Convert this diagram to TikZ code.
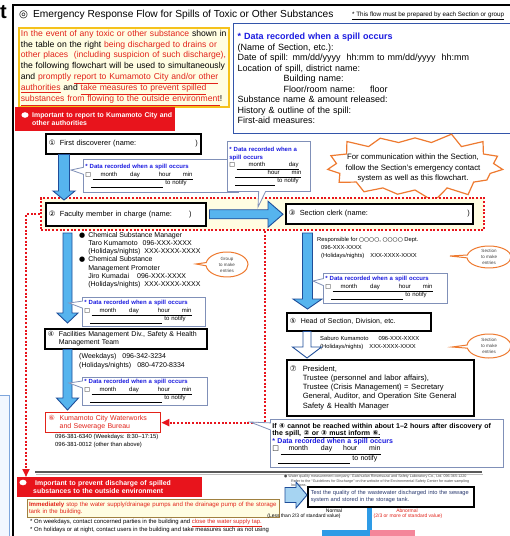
\documentclass[tikz,border=0pt]{standalone}
\usepackage{fontspec}
\setmainfont{Liberation Sans}
\newfontfamily\dejavu{DejaVu Sans}
\usetikzlibrary{positioning,calc,arrows.meta,shapes.callouts,shapes.symbols}

\definecolor{warnred}{HTML}{E8141C}
\definecolor{textred}{HTML}{E2231A}
\definecolor{recblue}{HTML}{1A1AE0}
\definecolor{recedge}{HTML}{3355AA}
\definecolor{noteedge}{HTML}{8090B8}
\definecolor{arrowblue}{HTML}{56B4EE}
\definecolor{lightarrow}{HTML}{A6D4F2}
\definecolor{arrowedge}{HTML}{1F4E99}
\definecolor{paleyellow}{HTML}{FFFDE2}
\definecolor{goldedge}{HTML}{F5C21B}
\definecolor{goldbrown}{HTML}{A08040}
\definecolor{burstorange}{HTML}{EE7A30}
\definecolor{leftblue}{HTML}{7FA6DC}
\definecolor{leftfill}{HTML}{F2F7FF}
\definecolor{barblue}{HTML}{2E9BE6}
\definecolor{barpink}{HTML}{F4869A}
\definecolor{testblue}{HTML}{2A3A70}

\newcommand{\fsz}[2]{\fontsize{#1}{#2}\selectfont}
\newcommand{\ru}[1]{\textcolor{textred}{\underline{#1}}}
\newcommand{\cnum}[1]{\makebox[11pt][l]{\dejavu #1}}
\newcommand{\pushright}{\hskip 0pt plus 1fill\relax}
\newcommand{\rechead}{\textcolor{recblue}{\bfseries * Data recorded when a spill occurs}}
\newcommand{\recday}[1]{{\dejavu □}\hspace{1.5pt}\underline{\hbox to #1{\vphantom{y}\hspace{8pt}month\hspace{13pt}day\hfil hour\hspace{12pt}min}}}
\newcommand{\recnote}[1]{\hspace*{6pt}\underline{\hbox to #1{\vphantom{y}\hfil}}\hspace{2pt}to notify}

% block arrows: [fill]{start}{tip}{half shaft}{half head}{head length}
\newcommand{\blockdown}[6][arrowblue]{%
  \path[draw=arrowedge, fill=#1, line width=0.9pt] let \p1=#2, \p2=#3 in
    (\x1-#4,\y1) -- (\x1+#4,\y1) -- (\x1+#4,\y2+#6) -- (\x1+#5,\y2+#6)
    -- (\x1,\y2) -- (\x1-#5,\y2+#6) -- (\x1-#4,\y2+#6) -- cycle;}
\newcommand{\blockright}[6][arrowblue]{%
  \path[draw=arrowedge, fill=#1, line width=0.9pt] let \p1=#2, \p2=#3 in
    (\x1,\y1+#4) -- (\x2-#6,\y1+#4) -- (\x2-#6,\y1+#5) -- (\x2,\y1)
    -- (\x2-#6,\y1-#5) -- (\x2-#6,\y1-#4) -- (\x1,\y1-#4) -- cycle;}

\begin{document}
\begin{tikzpicture}[x=1pt, y=-1pt,
  box/.style={draw, line width=1.5pt, fill=white, anchor=north west, inner sep=3pt, align=left},
  note/.style={rectangle callout, draw=noteedge, line width=0.8pt, fill=white, anchor=north west,
    inner sep=2pt, align=left, callout pointer width=7pt},
  oval/.style={ellipse callout, draw=burstorange, line width=1pt, fill=white, align=center,
    inner sep=0pt, text=black!75, font=\fsz{4.5}{6}, callout pointer width=6pt},
  banner/.style={fill=warnred, text=white, anchor=north west, align=left, inner sep=0pt,
    font=\bfseries\fsz{6.9}{8.2}},
  reddot/.style={draw=warnred, line width=2pt, dash pattern=on 2pt off 1.7pt},
  plain/.style={anchor=north west, inner sep=0pt, align=left}]
    \useasboundingbox[fill=white] (0,0) rectangle (510,536);

    % page frame and header
    \draw[draw=leftblue, fill=leftfill, line width=1pt] (-2,395) rectangle (9,540);
    \draw[line width=1.6pt] (13,540) -- (13,5) -- (514,5);
    \node[anchor=base west, inner sep=0pt, font=\bfseries\fsz{20}{20}] (tmark) at (0,18) {t};
    \node[anchor=west, inner sep=0pt, font=\fsz{10.2}{12}] (title) at (19,14.5)
        {{\dejavu ◎}\hspace{5pt}Emergency Response Flow for Spills of Toxic or Other Substances};
    \node[anchor=west, inner sep=0pt, font=\fsz{6.3}{7}] (flownote) at (352,15.5)
        {\underline{* This flow must be prepared by each Section or group}};

    \node[anchor=north west, draw=goldedge, line width=1.8pt, fill=paleyellow, text width=206pt,
        inner sep=2pt, minimum height=79pt, align=left, font=\fsz{8.6}{10.9}] (intro) at (18,27)
        {\textcolor{textred}{In the event of any toxic or other substance} shown in\\
         the table on the right \textcolor{textred}{being discharged to drains or}\\
         \textcolor{textred}{other places\ \ (including suspicion of such discharge),}\\
         the following flowchart will be used to simultaneously\\
         and \textcolor{textred}{promptly} \ru{report to Kumamoto City and/or other}\\
         \ru{authorities} and \ru{take measures to prevent spilled}\\
         \ru{substances from flowing to the outside environment}!};

    \node[anchor=north west, draw=recedge, line width=1.3pt, fill=white, text width=272pt,
        minimum height=110pt, inner sep=4pt, align=left, font=\fsz{9}{10.5}] (record) at (233,23)
        {\rechead\\
         (Name of Section, etc.):\\
         Date of spill: mm/dd/yyyy\ \ hh:mm to mm/dd/yyyy\ \ hh:mm\\
         Location of spill, district name:\\
         \hspace*{46pt}Building name:\\
         \hspace*{46pt}Floor/room name:\hspace{15pt}floor\\
         Substance name \& amount released:\\
         History \& outline of the spill:\\
         First-aid measures:};

    % report part
    \node[banner, text width=160pt, minimum height=24pt] (report) at (15,107)
        {\hspace*{17pt}Important to report to Kumamoto City and\\\hspace*{17pt}other authorities};
    \fill[white] ([xshift=10pt,yshift=-8pt]report.north west) ellipse (3.6pt and 2.8pt);

    \node[starburst, draw=burstorange, line width=1.2pt, fill=white, starburst points=15,
        starburst point height=13pt, random starburst=3, minimum width=184pt, minimum height=74pt,
        inner sep=0pt] (burst) at (415,166) {};
    \node[align=center, inner sep=0pt, font=\fsz{7.8}{10.5}] (bursttext) at (413,168)
        {For communication within the Section,\\follow the Section's emergency contact\\system as well as this flowchart.};

    \node[box, minimum width=155pt, minimum height=20pt, text width=149pt, font=\fsz{7.4}{9}] (b1) at (45,133)
        {\cnum{①}First discoverer (name:\pushright)};

    \node[anchor=north west, reddot, fill=paleyellow, minimum width=443pt, minimum height=32pt,
        inner sep=0pt] (grp) at (40,197) {};
    \node[box, minimum width=160pt, minimum height=23pt, text width=154pt, font=\fsz{7.4}{9}] (b2) at (45,202)
        {\cnum{②}Faculty member in charge (name:\hspace{17pt})};
    \node[box, minimum width=187pt, minimum height=20pt, text width=181pt, font=\fsz{7.4}{9}] (b3) at (285,203)
        {\cnum{③}Section clerk (name:\pushright)\hspace*{19pt}};

    \blockdown{([xshift=19pt]b1.south west)}{([xshift=19pt,yshift=2pt]b2.north west)}{5.5pt}{11pt}{9pt}
    \blockright{([xshift=3pt]b2.east)}{([xshift=-2pt]b3.west)}{4.5pt}{13pt}{15pt}

    \node[note, callout absolute pointer={(71,170)}, minimum width=155pt, minimum height=33pt,
        text width=151pt, font=\fsz{6}{8.3}] (c1) at (83,159) {\rechead\\\recday{100pt}\\\recnote{72pt}};
    \node[note, callout absolute pointer={(258,207)}, minimum width=83pt, minimum height=50pt,
        text width=79pt, font=\fsz{6}{7.6}] (c2) at (227,141)
        {\textcolor{recblue}{\bfseries * Data recorded when a}\\\textcolor{recblue}{\bfseries spill occurs}\\
         {\dejavu □}\hspace{1.5pt}\underline{\hbox to 62pt{\vphantom{y}\hspace{12pt}month\hfil day}}\\
         \hspace*{6pt}\underline{\hbox to 66pt{\vphantom{y}\hfil hour\hspace{12pt}min}}\\
         \hspace*{6pt}\underline{\hbox to 40pt{\vphantom{y}\hfil}}\hspace{2pt}to notify};

    % left column
    \node[plain, font=\fsz{7}{8.3}] (mgr) at (79,231)
        {\begin{tabular}{@{}l@{\hspace{3pt}}l@{}}
         {\dejavu ●} & Chemical Substance Manager\\
          & Taro Kumamoto\hspace{5pt}096-XXX-XXXX\\
          & (Holidays/nights)\hspace{4pt}XXX-XXXX-XXXX\\
         {\dejavu ●} & Chemical Substance\\
          & Management Promoter\\
          & Jiro Kumadai\hspace{8pt}096-XXX-XXXX\\
          & (Holidays/nights)\hspace{4pt}XXX-XXXX-XXXX
         \end{tabular}};
    \node[oval, minimum width=42pt, minimum height=25pt, callout absolute pointer={(196,264)}] (grpnote) at (227,264.5)
        {Group\\to make\\entries};

    \node[box, minimum width=162pt, minimum height=20pt, text width=156pt, inner ysep=1.5pt,
        font=\fsz{7}{8}] (b4) at (44,328)
        {\cnum{④}Facilities Management Div., Safety \& Health\\\hspace*{11pt}Management Team};
    \blockdown{([xshift=27.5pt,yshift=-2pt]grp.south west)}{([xshift=23.5pt,yshift=5pt]b4.north west)}{4.5pt}{10.5pt}{10pt}
    \node[note, callout absolute pointer={(69,303)}, minimum width=123pt, minimum height=29pt,
        text width=119pt, font=\fsz{6}{8}] (c3) at (82,297) {\rechead\\\recday{100pt}\\\recnote{72pt}};

    \node[plain, font=\fsz{7}{8.7}] (fac) at (79,353.5)
        {(Weekdays)\hspace{6pt}096-342-3234\\(Holidays/nights)\hspace{6pt}080-4720-8334};
    \node[box, draw=textred, line width=1.3pt, text=textred, minimum width=115pt, minimum height=20pt,
        text width=109pt, inner ysep=1.5pt, font=\fsz{7}{8.5}] (sewer) at (45,412)
        {\cnum{⑥}Kumamoto City Waterworks\\\hspace*{11pt}and Sewerage Bureau};
    \blockdown{([xshift=23.5pt]b4.south west)}{([xshift=22.5pt,yshift=2pt]sewer.north west)}{4.5pt}{11pt}{12pt}
    \node[note, callout absolute pointer={(69,383)}, minimum width=125pt, minimum height=28pt,
        text width=121pt, font=\fsz{6}{8}] (c4) at (82,377) {\rechead\\\recday{100pt}\\\recnote{72pt}};
    \node[plain, font=\fsz{5.9}{8}] (sewtel) at (55,434.5)
        {096-381-6340 (Weekdays: 8:30--17:15)\\096-381-0012 (other than above)};

    % right column
    \node[plain, font=\fsz{5.8}{7.7}] (resp) at (317,237.5)
        {Responsible for {\dejavu ○○○○}, {\dejavu ○○○○} Dept.\\\hspace*{4pt}096-XXX-XXXX\\
         \hspace*{4pt}(Holidays/nights)\hspace{6pt}XXX-XXXX-XXXX};
    \node[oval, minimum width=44pt, minimum height=22pt, callout absolute pointer={(450,256)}] (secnote1) at (489,257)
        {Section\\to make\\entries};

    \node[box, minimum width=144pt, minimum height=18pt, text width=138pt, font=\fsz{7}{9}] (b5) at (286,312)
        {\cnum{⑤}Head of Section, Division, etc.};
    \blockdown{([xshift=267.5pt,yshift=-2pt]grp.south west)}{([xshift=21.5pt,yshift=3pt]b5.north west)}{5pt}{14.5pt}{10pt}
    \node[note, callout absolute pointer={(313,281)}, minimum width=124pt, minimum height=30pt,
        text width=120pt, font=\fsz{6}{8}] (c5) at (323,273) {\rechead\\\recday{100pt}\\\recnote{72pt}};

    \node[plain, font=\fsz{5.8}{8}] (saburo) at (320,336)
        {Saburo Kumamoto\hspace{10pt}096-XXX-XXXX\\(Holidays/nights)\hspace{6pt}XXX-XXXX-XXXX};
    \node[oval, minimum width=44pt, minimum height=24pt, callout absolute pointer={(452,347)}] (secnote2) at (489,346)
        {Section\\to make\\entries};

    \node[box, minimum width=187pt, minimum height=56pt, text width=181pt, font=\fsz{7.6}{9.2}] (b7) at (286,359)
        {\makebox[13pt][l]{\dejavu ⑦}President,\\
         \hspace*{13pt}Trustee (personnel and labor affairs),\\
         \hspace*{13pt}Trustee (Crisis Management) = Secretary\\
         \hspace*{13pt}General, Auditor, and Operation Site General\\
         \hspace*{13pt}Safety \& Health Manager};
    \blockdown[white]{([xshift=21pt]b5.south west)}{([xshift=21pt,yshift=1pt]b7.north west)}{4pt}{14.5pt}{11pt}

    % prevent part
    \draw[line width=2.2pt, black!65] (35,472) -- (482,472);
    \draw[line width=0.8pt, black!25] (36,474.5) -- (483,474.5);
    \node[banner, text width=185pt, minimum height=20pt] (prevent) at (17,477)
        {\hspace*{18pt}Important to prevent discharge of spilled\\\hspace*{16pt}substances to the outside environment};
    \fill[white] ([xshift=6pt,yshift=-5.5pt]prevent.north west) ellipse (3.6pt and 2.8pt);

    % red dotted connectors
    \draw[reddot, -{Triangle[length=8pt,width=7pt]}] (grp.west) -| ([xshift=9pt]prevent.north west);
    \draw[reddot, -{Triangle[length=8pt,width=7pt]}] ([xshift=225pt]grp.south west) |- (sewer.east);

    \node[note, callout absolute pointer={(250,422)}, minimum width=233pt, minimum height=48pt,
        text width=229pt, font=\fsz{7}{7.6}] (c6) at (270,419)
        {\textbf{If {\dejavu ④} cannot be reached within about 1--2 hours after discovery of}\\
         \textbf{the spill, \underline{{\dejavu ②} or {\dejavu ③} must inform {\dejavu ⑥}.}}\\
         \rechead\\\recday{100pt}\\\recnote{72pt}};

    \node[anchor=north west, draw=goldbrown, line width=1pt, fill=paleyellow, text width=249pt,
        inner sep=1.5pt, minimum height=18pt, align=left, font=\fsz{6.1}{7.4}, text=textred] (immediate) at (27,499)
        {\textbf{Immediately} stop the water supply/drainage pumps and the drainage pump of the storage\\tank in the building.};
    \node[plain, font=\fsz{5.9}{8}] (notes) at (30,519.5)
        {* On weekdays, contact concerned parties in the building and \ru{close the water supply tap.}\\
         * On holidays or at night, contact users in the building and take measures such as not using};

    \node[plain, font=\fsz{3.7}{4.2}, text=black!70] (lab) at (284,475)
        {{\dejavu ●}\ Water quality measurement company: Gaishudan Rinsetsuzai and Safety Laboratory Co., Ltd.\ 096-365-1220\\
         \hspace*{7pt}Refer to the ``Guidelines for Discharge'' on the website of the Environmental Safety Center for water sampling\\
         \hspace*{7pt}locations.};
    \node[box, minimum width=166pt, minimum height=20pt, text width=160pt, inner ysep=2pt,
        font=\fsz{5.7}{7.4}, text=testblue] (test) at (307,486)
        {Test the quality of the wastewater discharged into the sewage\\system and stored in the storage tank.};
    \blockright[lightarrow]{([xshift=5pt,yshift=4pt]immediate.north east)}{(test.west)}{7.5pt}{13pt}{11pt}

    \node[inner sep=0pt, font=\fsz{5}{6}] (normal) at (334,510.5) {Normal};
    \node[inner sep=0pt, font=\fsz{5}{6}] (normalv) at (304,516.5) {(Less than 2/3 of standard value)};
    \node[inner sep=0pt, font=\fsz{5}{6}, text=textred] (abnormal) at (407,510.5) {Abnormal};
    \node[inner sep=0pt, font=\fsz{5}{6}, text=textred] (abnormalv) at (408,516.5) {(2/3 or more of standard value)};
    \fill[barblue] ([xshift=-24pt]test.south) rectangle ++(5,40);
    \fill[barblue] (322,530) rectangle (370,540);
    \fill[barpink] (370,530) rectangle (415,540);
\end{tikzpicture}
\end{document}
